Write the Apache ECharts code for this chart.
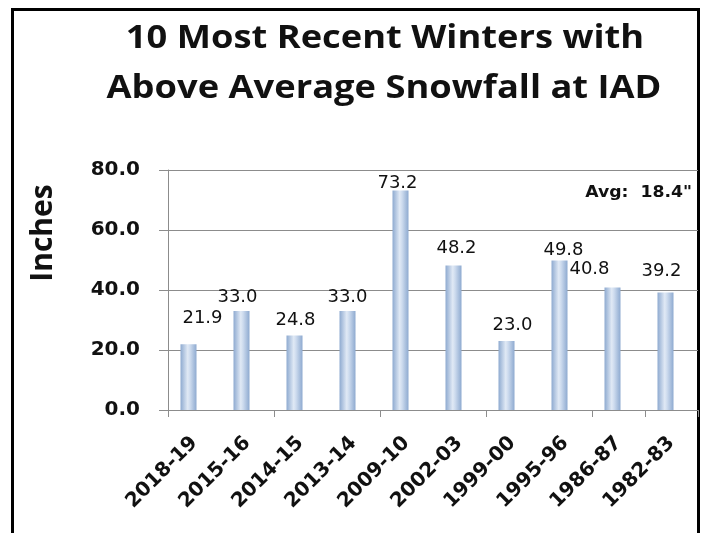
<!DOCTYPE html>
<html>
<head>
<meta charset="utf-8">
<script src="https://cdn.jsdelivr.net/npm/echarts@6/dist/echarts.min.js"></script>
<style>
html,body{margin:0;padding:0;background:#fff;}
#chart{width:704px;height:533px;}
</style>
</head>
<body>
<div id="chart"></div>
<script>
// Data
const winters = ['2018-19','2015-16','2014-15','2013-14','2009-10','2002-03','1999-00','1995-96','1986-87','1982-83'];
const snowfall = [21.9, 33.0, 24.8, 33.0, 73.2, 48.2, 23.0, 49.8, 40.8, 39.2];
const yTicks = [0, 20, 40, 60, 80];
const titleLines = ['10 Most Recent Winters with', 'Above Average Snowfall at IAD'];
const axisTitle = 'Inches';
const avgNote = 'Avg:  18.4"';

// label nudges (style only, pixels)
const labelNudgeX = [14, -4, 1, 0, -3, 3, 6, 4, -23, -4];
const labelNudgeY = [-12, 0, -1, 0, 7, -3, -2, 4, -4, -7];

const chart = echarts.init(document.getElementById('chart'), null, {renderer: 'canvas'});

const barGradient = new echarts.graphic.LinearGradient(0, 0, 1, 0, [
  {offset: 0, color: '#8eaad0'},
  {offset: 0.45, color: '#e0e9f5'},
  {offset: 0.6, color: '#cddbee'},
  {offset: 1, color: '#8eaad0'}
]);

const titleStyle = {
  fontFamily: 'Open Sans',
  fontWeight: 'bold',
  fontSize: 33,
  fill: '#111',
  align: 'center',
  verticalAlign: 'top'
};

const option = {
  animation: false,
  backgroundColor: '#ffffff',
  grid: {left: 168, right: 6, top: 170, bottom: 123, containLabel: false},
  xAxis: {
    type: 'category',
    data: winters,
    axisLine: {lineStyle: {color: '#8c8c8c', width: 1}},
    axisTick: {show: true, interval: 1, length: 7, lineStyle: {color: '#8c8c8c'}},
    axisLabel: {
      rotate: 45,
      interval: 0,
      margin: 30,
      fontFamily: 'DejaVu Sans',
      fontWeight: 'bold',
      fontSize: 20,
      color: '#111'
    }
  },
  yAxis: {
    type: 'value',
    min: yTicks[0],
    max: yTicks[yTicks.length - 1],
    interval: 20,
    axisLine: {show: true, lineStyle: {color: '#8c8c8c'}},
    axisTick: {show: true, length: 9, lineStyle: {color: '#8c8c8c'}},
    splitLine: {lineStyle: {color: '#8c8c8c', width: 1}},
    axisLabel: {
      margin: 28,
      formatter: v => v.toFixed(1),
      fontFamily: 'DejaVu Sans',
      fontWeight: 'bold',
      fontSize: 20,
      color: '#111'
    }
  },
  series: [
    {
      type: 'bar',
      data: snowfall.map((v, i) => ({
        value: v,
        label: {offset: [labelNudgeX[i], labelNudgeY[i]]}
      })),
      barWidth: 16,
      barGap: '0%',
      itemStyle: {color: barGradient},
      label: {
        show: true,
        position: 'top',
        distance: 5,
        formatter: p => p.value.toFixed(1),
        fontFamily: 'DejaVu Sans',
        fontSize: 18,
        color: '#111'
      }
    },
    {
      type: 'bar',
      data: snowfall.map(() => null),
      barWidth: 12,
      silent: true,
      itemStyle: {color: 'transparent'}
    }
  ],
  graphic: [
    {
      type: 'rect',
      shape: {x: 12.5, y: 9.5, width: 686, height: 540},
      style: {fill: 'none', stroke: '#000', lineWidth: 3},
      silent: true
    },
    {
      type: 'text',
      x: 385,
      y: 22,
      scaleX: 1.1,
      style: Object.assign({text: titleLines[0]}, titleStyle)
    },
    {
      type: 'text',
      x: 384,
      y: 72,
      scaleX: 1.1,
      style: Object.assign({text: titleLines[1]}, titleStyle)
    },
    {
      type: 'text',
      x: 43,
      y: 233,
      rotation: Math.PI / 2,
      style: {
        text: axisTitle,
        fontFamily: 'Open Sans',
        fontWeight: 'bold',
        fontSize: 30,
        fill: '#111',
        align: 'center',
        verticalAlign: 'middle'
      }
    },
    {
      type: 'text',
      x: 692,
      y: 193,
      scaleX: 1.15,
      style: {
        text: avgNote,
        fontFamily: 'DejaVu Sans',
        fontWeight: 'bold',
        fontSize: 15,
        fill: '#111',
        align: 'right',
        verticalAlign: 'middle'
      }
    }
  ]
};
chart.setOption(option);
</script>
</body>
</html>
